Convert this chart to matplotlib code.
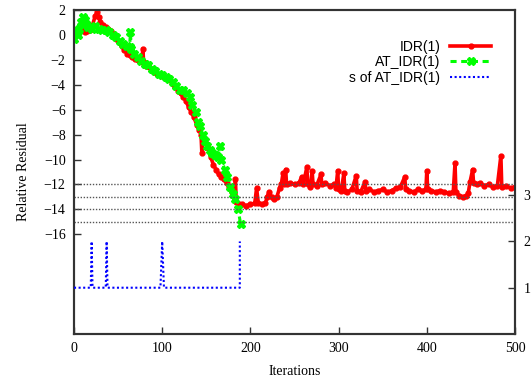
import matplotlib
matplotlib.use("Agg")
import matplotlib.pyplot as plt

# ---- data ----
idr_iter = [0, 3, 6, 9, 12, 15, 18, 21, 24, 26, 28, 30, 33, 36, 39, 42, 45, 48, 51, 54,
            57, 60, 63, 66, 69, 72, 75, 77, 78, 79, 82, 85, 88, 91, 94, 97, 100, 103, 106, 109,
            112, 115, 118, 121, 124, 127, 130, 133, 136, 139, 142, 144, 145, 146, 149, 152, 155, 158, 161, 164,
            167, 170, 173, 176, 179, 182, 183, 184, 187, 190, 195, 200, 205, 207, 209, 213, 217, 219, 221, 224,
            227, 230, 233, 235, 237, 238, 240, 241, 245, 250, 255, 258, 260, 264, 265, 268, 270, 271, 275, 280,
            281, 285, 290, 295, 297, 299, 300, 303, 306, 307, 310, 315, 320, 321, 325, 330, 331, 335, 340, 345,
            350, 355, 360, 365, 370, 375, 376, 380, 385, 390, 395, 399, 400, 401, 405, 410, 415, 420, 425, 430,
            432, 433, 437, 441, 445, 447, 449, 452, 453, 457, 460, 465, 470, 475, 480, 484, 485, 490, 495, 500]
idr_res = [0.0, 0.5, 0.2, 0.4, 0.2, 0.3, 0.4, 0.8, 1.5, 1.8, 1.4, 1.0, 0.8, 0.6, 0.5, 0.3, 0.1, -0.3, -0.6, -0.9,
           -1.2, -1.5, -1.6, -1.8, -1.9, -2.0, -2.1, -2.2, -1.1, -2.2, -2.5, -2.6, -2.8, -3.0, -3.1, -3.2, -3.3, -3.4, -3.5, -3.6,
           -3.9, -4.2, -4.5, -4.7, -5.0, -5.3, -5.8, -6.2, -6.6, -7.2, -7.6, -8.0, -9.5, -8.2, -8.6, -9.1, -9.8, -10.4, -10.8, -11.2,
           -11.4, -11.6, -11.9, -12.2, -12.6, -13.2, -11.6, -13.4, -13.6, -13.6, -13.7, -13.6, -13.5, -12.3, -13.5, -13.6, -13.5, -13.0, -12.6, -13.0,
           -13.2, -13.0, -12.3, -12.0, -11.1, -12.0, -10.8, -12.0, -11.9, -12.0, -11.9, -11.4, -12.0, -10.6, -12.0, -12.2, -10.9, -12.0, -12.1, -11.2,
           -12.0, -11.9, -12.1, -12.0, -12.3, -10.9, -12.4, -12.5, -11.1, -12.5, -12.6, -12.4, -11.3, -12.5, -12.6, -11.8, -12.5, -12.4, -12.6, -12.5,
           -12.4, -12.6, -12.5, -12.3, -12.2, -11.4, -12.4, -12.5, -12.6, -12.4, -12.5, -12.4, -10.9, -12.4, -12.5, -12.6, -12.5, -12.6, -12.7, -12.6,
           -10.3, -12.6, -12.9, -13.0, -12.9, -12.7, -11.8, -10.8, -11.9, -12.0, -11.9, -12.1, -12.0, -12.2, -12.1, -9.7, -12.2, -12.1, -12.3, -12.2]

at_iter = [0, 2, 4, 6, 8, 10, 12, 14, 16, 20, 24, 28, 32, 36, 40, 44, 48, 52, 56, 60,
           63, 64, 65, 68, 72, 76, 80, 84, 88, 92, 96, 100, 104, 108, 112, 116, 120, 124, 128, 131,
           134, 138, 141, 143, 146, 148, 151, 154, 157, 160, 163, 166, 167, 171, 174, 177, 180, 183, 186, 189]
at_res = [-0.3, 0.3, 0.0, 0.5, 1.0, 1.4, 1.2, 0.9, 0.6, 0.5, 0.7, 0.5, 0.4, 0.4, 0.2, 0.0, -0.2, -0.5, -0.7, -0.9,
          -1.0, 0.2, -1.1, -1.5, -1.8, -2.1, -2.3, -2.4, -2.7, -2.9, -3.1, -3.2, -3.4, -3.5, -3.8, -4.1, -4.4, -4.4, -4.7, -5.0,
          -5.6, -6.2, -7.0, -7.3, -8.0, -8.5, -8.9, -9.2, -9.5, -9.6, -9.8, -8.9, -10.0, -10.8, -11.4, -12.2, -12.8, -13.2, -14.0, -15.2]

s_iter = [0, 19, 20, 21, 36, 37, 38, 98, 100, 102, 188, 188]
s_val = [1, 1, 2, 1, 1, 2, 1, 1, 2, 1, 1, 2]

ref_levels = [-12, -13, -14, -15]
x_ticks = [0, 100, 200, 300, 400, 500]
y_ticks = [-16, -14, -12, -10, -8, -6, -4, -2, 0, 2]
y2_ticks = [1, 2, 3]

# ---- figure ----
W, H = 532, 383
fig = plt.figure(figsize=(W / 100, H / 100), dpi=100)
ax = fig.add_axes([74 / W, 1 - 334 / H, (515 - 74) / W, (334 - 10) / H])
ax2 = ax.twinx()

serif = "Liberation Serif"
sans = "Liberation Sans"

red, = ax.plot(idr_iter, idr_res, color="#ff0000", lw=2.6, marker="o", ms=3.5, zorder=3,
               label="IDR(1)")
green, = ax.plot(at_iter, at_res, color="#00ff00", lw=2.2, ls=(0, (2, 1.5)), marker="X", ms=5.5,
                 zorder=4, label="AT_IDR(1)")
for lv in ref_levels:
    ax.axhline(lv, color="#555555", lw=1, ls=(0, (1, 1.2)), zorder=5)

blue, = ax2.plot(s_iter, s_val, color="#0000ff", lw=1.5, ls=(0, (1, 1.2)), zorder=3,
                 label="s of AT_IDR(1)")

ax.set_xlim(0, 500)
ax.set_ylim(-24, 2)
ax2.set_ylim(0, 7)
ax.set_xticks(x_ticks)
ax.set_yticks(y_ticks)
ax2.set_yticks(y2_ticks)

for a in (ax, ax2):
    a.tick_params(direction="in", length=5, width=1, color="#333333")
    for sp in a.spines.values():
        sp.set_color("#333333")
        sp.set_linewidth(1.5)
ax.tick_params(axis="both", labelsize=10, pad=6)
ax2.tick_params(axis="y", labelsize=10, pad=6)
for lab in ax.get_xticklabels() + ax.get_yticklabels() + ax2.get_yticklabels():
    lab.set_fontfamily(serif)

ax.set_xlabel("Iterations", fontfamily=serif, fontsize=10, labelpad=7)
ax.set_ylabel("Relative Residual", fontfamily=serif, fontsize=10, labelpad=10)

leg = ax.legend(handles=[red, green, blue], loc="upper right",
                bbox_to_anchor=(0.962, 0.93), frameon=False, markerfirst=False,
                prop={"family": sans, "size": 10}, handlelength=2.95, handletextpad=0.72,
                labelspacing=0.12, borderpad=0)
leg.set_zorder(10)

fig.savefig("out.png", dpi=100)
